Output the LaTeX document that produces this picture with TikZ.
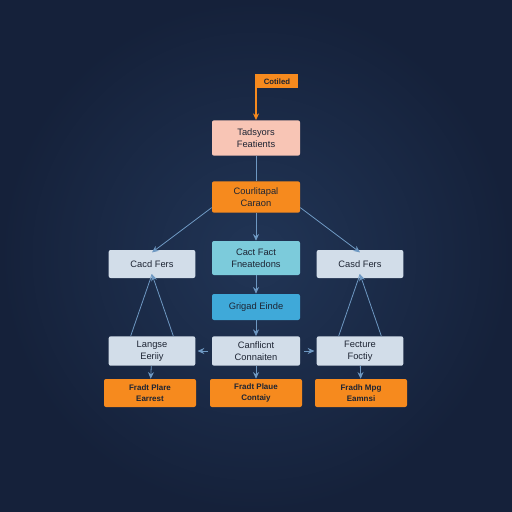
\documentclass[tikz,border=0pt]{standalone}
\usepackage{fontspec}
\setmainfont{Liberation Sans}
\usetikzlibrary{arrows.meta}
\definecolor{bgin}{HTML}{213556}
\definecolor{bgout}{HTML}{15213A}
\definecolor{pinkbox}{HTML}{F8C5B5}
\definecolor{orangebox}{HTML}{F68A1E}
\definecolor{cyanbox}{HTML}{7CCBDB}
\definecolor{bluebox}{HTML}{3FA9D9}
\definecolor{greybox}{HTML}{D2DDE9}
\definecolor{linkcol}{HTML}{6E98C2}
\definecolor{inkcol}{HTML}{1D2433}
\tikzset{
  box/.style={rounded corners=1.5pt, align=center, text=inkcol, inner sep=0pt,
    font=\fontsize{7}{9}\selectfont},
  hot/.style={box, fill=orangebox, minimum width=69pt, minimum height=21pt,
    font=\fontsize{6}{8}\selectfont\bfseries},
  link/.style={draw=linkcol, line width=0.6pt, -{Stealth[length=5pt,width=4.5pt]}}
}
\begin{document}
\begin{tikzpicture}[x=0.75pt,y=0.75pt,yscale=-1,xscale=1]
%set diagram area to 512 x 512
\useasboundingbox (0,0) rectangle (512,512);
\shade[inner color=bgin, outer color=bgout] (0,0) rectangle (512,512);

%Shape: Flag
\node (flag) [fill=orangebox, anchor=north west, minimum width=31pt, minimum height=10.5pt, inner sep=0pt, text=inkcol, font=\fontsize{5.8}{6}\selectfont\bfseries] at (256,74) {Cotiled};

% Text Node
\node (feat) [box, fill=pinkbox, minimum width=66pt, minimum height=26.5pt] at (256,138) {Tadsyors\\Featients};
% Text Node
\node (cond) [box, fill=orangebox, minimum width=66pt, minimum height=23.5pt] at (256,197) {Courlitapal\\Caraon};
% Text Node
\node (fact) [box, fill=cyanbox, minimum width=66pt, minimum height=25.5pt] at (256,258) {Cact Fact\\Fneatedons};
% Text Node
\node (fersl) [box, fill=greybox, minimum width=65pt, minimum height=21pt] at (152,264) {Cacd Fers};
% Text Node
\node (fersr) [box, fill=greybox, minimum width=65pt, minimum height=21pt] at (360,264) {Casd Fers};
% Text Node
\node (grid) [box, fill=bluebox, minimum width=66pt, minimum height=19.5pt] at (256,307) {Grigad Einde};
% Text Node
\node (lang) [box, fill=greybox, minimum width=65pt, minimum height=22pt] at (152,351) {Langse\\Eeriiy};
% Text Node
\node (conf) [box, fill=greybox, minimum width=66pt, minimum height=22pt] at (256,351) {Canflicnt\\Connaiten};
% Text Node
\node (fect) [box, fill=greybox, minimum width=65pt, minimum height=22pt] at (360,351) {Fecture\\Foctiy};
% Text Node
\node (fral) [hot] at (150,393) {Fradt Plare\\Earrest};
% Text Node
\node (frac) [hot] at (256,393) {Fradt Plaue\\Contaiy};
% Text Node
\node (frar) [hot] at (361,393) {Fradh Mpg\\Eamnsi};

% Connection
\draw [draw=orangebox, line width=0.8pt, -{Stealth[length=5pt,width=4.5pt]}] (flag.north west) -- (feat.north);
% Connection
\draw [draw=linkcol, line width=0.6pt] (feat) -- (cond);
\draw [link] (cond) -- (fact);
\draw [link] (fact) -- (grid);
\draw [link] (grid) -- (conf);
% Connection
\draw [link] ([yshift=-4pt]cond.south west) -- ([yshift=2pt]fersl.north);
\draw [link] ([yshift=-4pt]cond.south east) -- ([yshift=2pt]fersr.north);
% Connection
\draw [link, shorten <=3pt, shorten >=1.5pt] (conf.west) -- (lang.east);
\draw [link, shorten <=3pt, shorten >=1.5pt] (conf.east) -- (fect.east -| fect.west);
% Connection
\draw [link] (lang) -- (fral);
\draw [link] (conf) -- (frac);
\draw [link] (fect) -- (frar);
% Connection
\draw [link, -] ([xshift=-16pt]lang.north) -- ([yshift=-3pt]fersl.south);
\draw [link] ([xshift=16pt]lang.north) -- ([yshift=-3pt]fersl.south);
\draw [link, -] ([xshift=-16pt]fect.north) -- ([yshift=-3pt]fersr.south);
\draw [link] ([xshift=16pt]fect.north) -- ([yshift=-3pt]fersr.south);

\end{tikzpicture}
\end{document}
